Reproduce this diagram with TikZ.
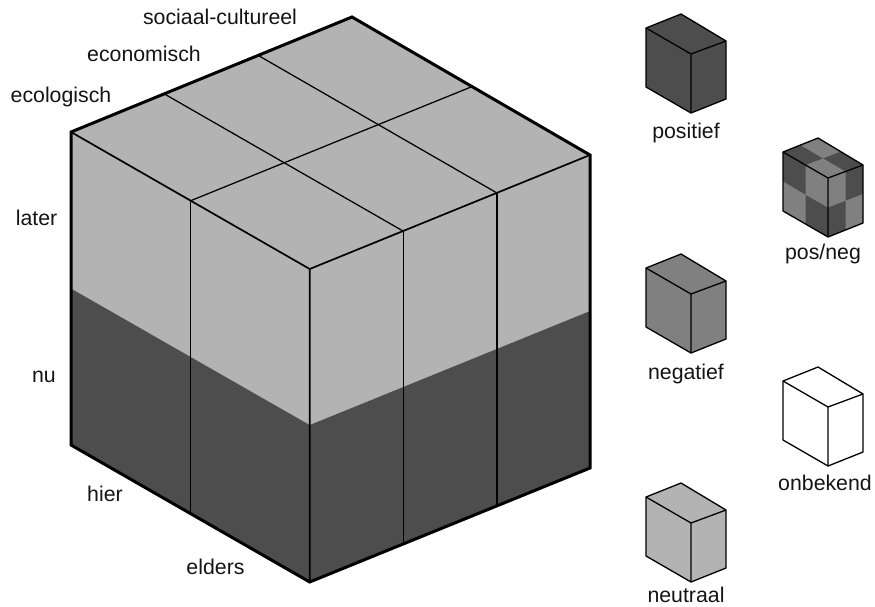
\documentclass[tikz,border=0pt]{standalone}
\usepackage{fontspec}
\setmainfont{Liberation Sans}
\definecolor{cdark}{HTML}{4D4D4D}
\definecolor{cmid}{HTML}{808080}
\definecolor{clight}{HTML}{B3B3B3}
\tikzset{
  outer/.style={draw=black,line width=3pt,line join=miter,fill=none},
  inner/.style={draw=black,line width=1.25pt},
  edgethree/.style={draw=black,line width=1.7pt},
  smalle/.style={draw=black,line width=1.3pt,line join=round},
  lab/.style={font=\fontsize{21.3}{24}\selectfont,inner sep=0pt,anchor=base,text=black!92},
  pics/minicube/.style={code={
    \fill[#1] (0,0)--(35,-14)--(80,13)--(80,71)--(45,85)--(0,59)--cycle;
    \draw[smalle] (0,0)--(35,-14)--(80,13)--(80,71)--(45,85)--(0,59)--cycle;
    \draw[smalle] (0,0)--(45,26)--(80,13) (45,26)--(45,85);
  }},
  pics/checkcube/.style={code={
    \fill[cdark] (0,0)--(35,-14)--(80,13)--(80,71)--(45,85)--(0,59)--cycle;
    \fill[cmid] (17.5,-7)--(35,-14)--(57.5,-0.5)--(40,6.5)--cycle;
    \fill[cmid] (22.5,13)--(40,6.5)--(62.5,19.5)--(45,26)--cycle;
    \fill[cmid] (22.5,13)--(45,26)--(45,55.5)--(22.5,42.75)--cycle;
    \fill[cmid] (0,29.5)--(22.5,42.75)--(22.5,72)--(0,59)--cycle;
    \fill[cmid] (45,26)--(62.5,19.5)--(62.5,48.75)--(45,55.5)--cycle;
    \fill[cmid] (62.5,48.75)--(80,42)--(80,71)--(62.5,78)--cycle;
    \draw[smalle] (0,0)--(35,-14)--(80,13)--(80,71)--(45,85)--(0,59)--cycle;
    \draw[smalle] (0,0)--(45,26)--(80,13) (45,26)--(45,85);
  }}
}
\begin{document}
\begin{tikzpicture}[x=1pt,y=-1pt]
\useasboundingbox (0,0) rectangle (875,607);
% corners of the big block
\coordinate (TB) at (352,17);
\coordinate (TL) at (71,132);
\coordinate (TF) at (309.7,269);
\coordinate (TR) at (590,155);
\coordinate (ML) at (71,288.5);
\coordinate (MF) at (309.7,425);
\coordinate (MR) at (590,311);
\coordinate (BL) at (71,445);
\coordinate (BF) at (309.7,582);
\coordinate (BR) at (590,468);
% faces
\fill[clight] (TL)--(TB)--(TR)--(MR)--(MF)--(ML)--cycle;
\fill[cdark] (ML)--(MF)--(MR)--(BR)--(BF)--(BL)--cycle;
% grid on the top face
\draw[inner] (165,94.3)--(403,231);
\draw[inner] (258.5,55.6)--(497,193);
\draw[inner] (190.7,200.7)--(471,87);
% verticals
\draw[inner] (190.7,200.7)--(190.7,513);
\draw[inner] (403.3,231)--(403.3,544);
\draw[inner] (497,193)--(497,506);
% front edges
\draw[edgethree] (TL)--(TF)--(TR) (TF)--(BF);
% silhouette
\draw[outer] (TL)--(TB)--(TR)--(BR)--(BF)--(BL)--cycle;
% legend cubes
\pic at (646,28) {minicube=cdark};
\pic at (646,268) {minicube=cmid};
\pic at (646,497) {minicube=clight};
\pic at (783,152) {checkcube};
\pic at (783,381) {minicube=white};
% labels
\node[lab] (l1) at (220,25) {sociaal-cultureel};
\node[lab] (l2) at (144,62) {economisch};
\node[lab] (l3) at (61,102.5) {ecologisch};
\node[lab] (l4) at (36.5,225) {later};
\node[lab] (l5) at (44,382) {nu};
\node[lab] (l6) at (105,501) {hier};
\node[lab] (l7) at (215.5,574) {elders};
\node[lab] (l8) at (686,139) {positief};
\node[lab] (l9) at (823,259) {pos/neg};
\node[lab] (l10) at (686,379) {negatief};
\node[lab] (l11) at (825,490) {onbekend};
\node[lab] (l12) at (686,602.5) {neutraal};
\end{tikzpicture}
\end{document}
